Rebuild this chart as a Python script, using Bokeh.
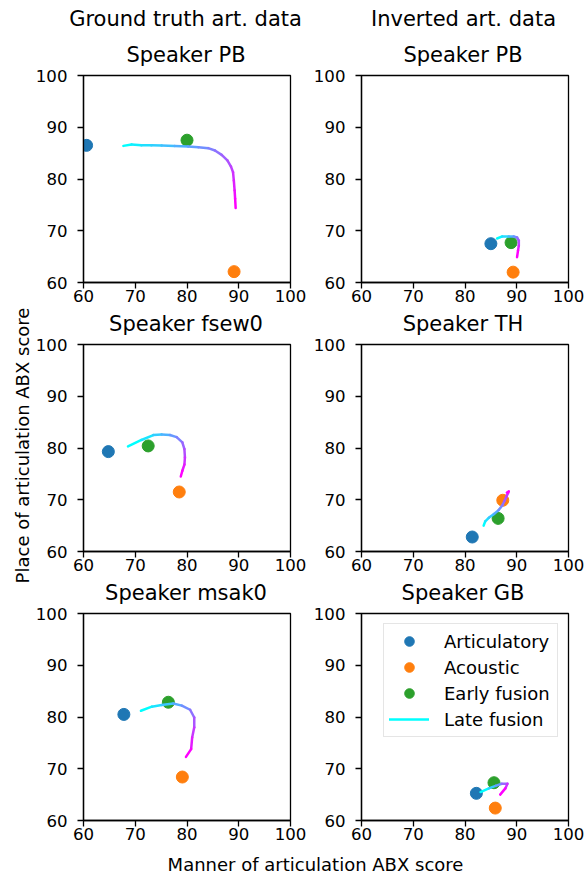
import math
from bokeh.plotting import figure
from bokeh.layouts import column, row
from bokeh.models import Range1d, FixedTicker, Legend, LegendItem, Label
from bokeh.embed import file_html
from bokeh.resources import INLINE

# ---------------- data ----------------
column_titles = ["Ground truth art. data", "Inverted art. data"]
speakers = ["PB", "PB", "fsew0", "TH", "msak0", "GB"]
x_ticks = [60, 70, 80, 90, 100]
y_ticks = [60, 70, 80, 90, 100]
x_label = "Manner of articulation ABX score"
y_label = "Place of articulation ABX score"

articulatory_x = [60.6, 85.0, 64.8, 81.4, 67.8, 82.2]
articulatory_y = [86.5, 67.5, 79.3, 62.8, 80.5, 65.25]
acoustic_x = [89.1, 89.3, 78.5, 87.3, 79.1, 85.85]
acoustic_y = [62.1, 62.0, 71.5, 69.9, 68.4, 62.4]
early_x = [80.0, 88.9, 72.5, 86.4, 76.4, 85.6]
early_y = [87.5, 67.7, 80.4, 66.4, 82.85, 67.3]

late_gt_pb_x = [67.7, 69.3, 71.2, 73.1, 75.1, 77.6, 80.2, 82.2, 84.1, 85.4, 86.7, 87.8, 88.5, 88.9, 89.05, 89.2, 89.3, 89.4]
late_gt_pb_y = [86.4, 86.67, 86.54, 86.5, 86.47, 86.4, 86.3, 86.15, 85.96, 85.5, 84.67, 83.6, 82.4, 81.3, 79.7, 77.8, 76.2, 74.4]
late_inv_pb_x = [86.2, 87.2, 88.45, 89.4, 90.06, 90.4, 90.4, 90.25, 90.06]
late_inv_pb_y = [68.5, 68.9, 68.9, 68.9, 68.7, 68.1, 67.1, 66.2, 64.9]
late_gt_fsew0_x = [68.6, 71.2, 73.5, 75.1, 76.7, 78.0, 79.1, 79.5, 79.6, 79.5, 79.1, 78.8]
late_gt_fsew0_y = [80.3, 81.55, 82.5, 82.6, 82.5, 82.1, 81.1, 79.8, 78.2, 76.8, 75.6, 74.5]
late_inv_th_x = [83.6, 83.9, 84.6, 85.6, 86.5, 87.2, 87.6, 88.0, 88.3, 88.45, 88.1]
late_inv_th_y = [65.0, 65.8, 66.5, 67.25, 68.0, 68.9, 69.7, 70.6, 71.25, 71.6, 71.4]
late_gt_msak0_x = [71.1, 73.2, 75.1, 77.35, 79.0, 80.6, 81.4, 81.4, 81.0, 80.8, 79.8]
late_gt_msak0_y = [81.2, 82.0, 82.3, 82.6, 82.2, 81.4, 79.9, 78.0, 76.05, 73.8, 72.3]
late_inv_gb_x = [83.0, 84.6, 85.9, 87.1, 88.2, 87.8, 86.8]
late_inv_gb_y = [65.5, 66.2, 66.7, 67.1, 67.1, 66.2, 65.0]

late_x = [late_gt_pb_x, late_inv_pb_x, late_gt_fsew0_x, late_inv_th_x, late_gt_msak0_x, late_inv_gb_x]
late_y = [late_gt_pb_y, late_inv_pb_y, late_gt_fsew0_y, late_inv_th_y, late_gt_msak0_y, late_inv_gb_y]

# ---------------- style ----------------
FONT = "DejaVu Sans"
C_ART, C_ACO, C_EARLY = "#1f77b4", "#ff7f0e", "#2ca02c"
FRAME = 207
TOP_B, BOTTOM_B = 7, 27
LEFT_B, RIGHT_B = 50, 20
PANEL_W = LEFT_B + FRAME + RIGHT_B
YLAB_W = 32
MAIN_W = 2 * PANEL_W
HEADER_H = 68
STRIP_H = 28
FOOTER_H = 29
PANEL_H = TOP_B + FRAME + BOTTOM_B
TOTAL_H = HEADER_H + 3 * PANEL_H + 2 * STRIP_H + FOOTER_H
TITLE_Y = 14  # title centre above strip bottom
COL_CX = [LEFT_B + FRAME / 2, PANEL_W + LEFT_B + FRAME / 2]


def cool(t):
    return "#%02x%02x%02x" % (int(round(255 * t)), int(round(255 * (1 - t))), 255)


def make_panel(i):
    p = figure(frame_width=FRAME, frame_height=FRAME,
               x_range=Range1d(60, 100), y_range=Range1d(60, 100),
               output_backend="svg", toolbar_location=None, title_location=None,
               min_border_left=LEFT_B, min_border_right=RIGHT_B,
               min_border_top=TOP_B, min_border_bottom=BOTTOM_B)
    p.grid.visible = False
    p.outline_line_color = "black"
    p.outline_line_width = 1.3
    p.background_fill_color = "white"
    p.border_fill_color = "white"
    for ax in (p.xaxis[0], p.yaxis[0]):
        ax.axis_line_color = "black"
        ax.axis_line_width = 1.3
        ax.major_tick_line_color = "black"
        ax.major_tick_line_width = 1.3
        ax.major_tick_out = 6
        ax.major_tick_in = 0
        ax.minor_tick_line_color = None
        ax.major_label_text_font = FONT
        ax.major_label_text_font_size = "16.6px"
        ax.major_label_text_color = "black"
    p.xaxis.ticker = FixedTicker(ticks=x_ticks)
    p.yaxis.ticker = FixedTicker(ticks=y_ticks)
    p.xaxis.major_label_standoff = 1
    p.yaxis.major_label_standoff = 10

    r_art = p.scatter([articulatory_x[i]], [articulatory_y[i]], size=12, color=C_ART)
    r_aco = p.scatter([acoustic_x[i]], [acoustic_y[i]], size=12, color=C_ACO)
    r_early = p.scatter([early_x[i]], [early_y[i]], size=12, color=C_EARLY)

    xs, ys = late_x[i], late_y[i]
    n = len(xs) - 1
    colors = [cool(k / (n - 1) if n > 1 else 0) for k in range(n)]
    r_late = p.segment(x0=xs[:-1], y0=ys[:-1], x1=xs[1:], y1=ys[1:],
                       line_color=colors, line_width=2.5, line_cap="round")
    return p, (r_art, r_aco, r_early, r_late)


panels = []
rends = []
for i in range(6):
    p, r = make_panel(i)
    panels.append(p)
    rends.append(r)

# legend on bottom-right panel
r_art, r_aco, r_early, r_late = rends[5]
legend = Legend(items=[
    LegendItem(label="Articulatory", renderers=[r_art]),
    LegendItem(label="Acoustic", renderers=[r_aco]),
    LegendItem(label="Early fusion", renderers=[r_early]),
    LegendItem(label="Late fusion", renderers=[r_late], index=0),
], location="top_right")
legend.label_text_font = FONT
legend.label_text_font_size = "18px"
legend.label_text_color = "black"
legend.glyph_width = 40
legend.glyph_height = 24
legend.label_height = 24
legend.label_width = 108
legend.label_standoff = 15
legend.spacing = 2
legend.padding = 5
legend.margin = 10
legend.border_line_color = "#cccccc"
legend.border_line_width = 1
legend.background_fill_color = "white"
legend.background_fill_alpha = 0.8
panels[5].add_layout(legend)


def blank(w, h):
    f = figure(width=w, height=h, x_range=Range1d(0, w), y_range=Range1d(0, h),
               min_border=0, toolbar_location=None, output_backend="svg",
               x_axis_location=None, y_axis_location=None, title_location=None)
    f.outline_line_color = None
    f.grid.visible = False
    return f


def add_text(f, x, y, txt, size, angle=0.0):
    f.add_layout(Label(x=x, y=y, text=txt, angle=angle, text_align="center", text_baseline="middle",
                       text_font=FONT, text_font_size=size, text_color="black"))


# header: column titles + first row of subplot titles
header = blank(MAIN_W, HEADER_H)
for txt, cx in zip(column_titles, [185 - YLAB_W, 463 - YLAB_W]):
    add_text(header, cx, HEADER_H - 18.5, txt, "21px")
for c in range(2):
    add_text(header, COL_CX[c], TITLE_Y, "Speaker " + speakers[c], "21px")

# strips holding subplot titles of rows 2 and 3
strips = []
for r in (1, 2):
    s = blank(MAIN_W, STRIP_H)
    for c in range(2):
        add_text(s, COL_CX[c], TITLE_Y, "Speaker " + speakers[2 * r + c], "21px")
    strips.append(s)

# footer with shared x label
footer = blank(MAIN_W, FOOTER_H)
add_text(footer, 315 - YLAB_W, 12, x_label, "18px")

# left strip with shared y label
ystrip = blank(YLAB_W, TOTAL_H)
add_text(ystrip, 22, TOTAL_H - 445, y_label, "18px", angle=math.pi / 2)

main = column(header,
              row(panels[0], panels[1]),
              strips[0],
              row(panels[2], panels[3]),
              strips[1],
              row(panels[4], panels[5]),
              footer)
layout = row(ystrip, main)

open("out.html", "w").write(file_html(layout, INLINE))
